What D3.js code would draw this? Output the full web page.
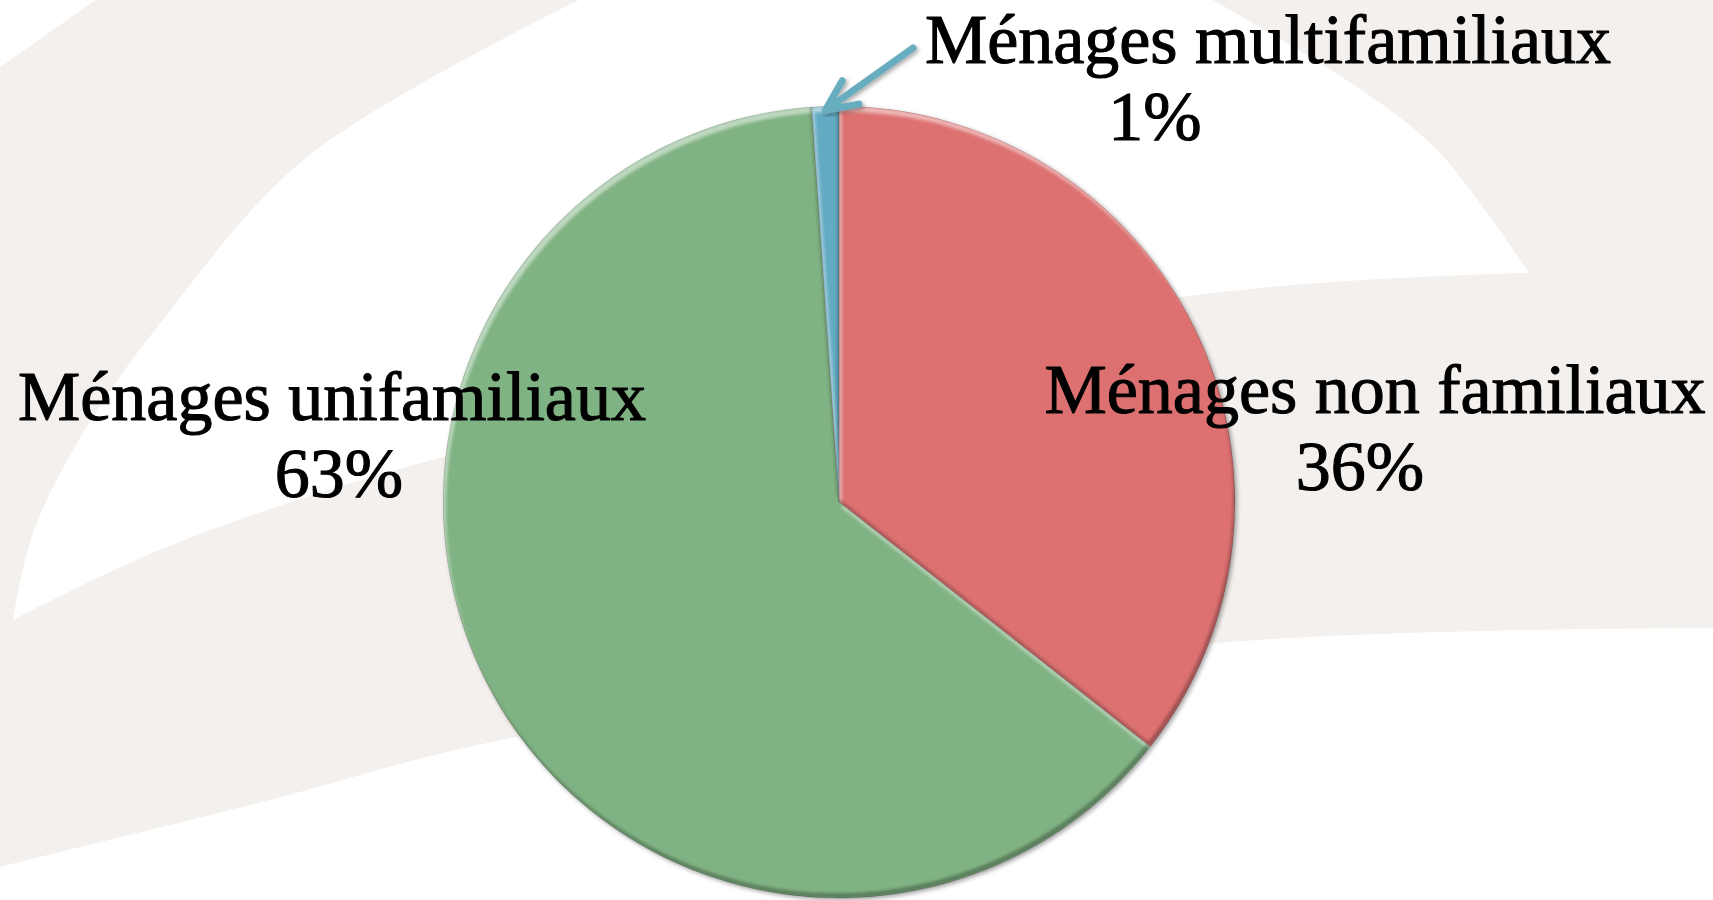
<!DOCTYPE html>
<html>
<head>
<meta charset="utf-8">
<script src="https://cdn.jsdelivr.net/npm/d3@7"></script>
<style>
    html, body { margin: 0; padding: 0; background: #ffffff; overflow: hidden; }
    svg { display: block; }
    .label { font-family: "Liberation Serif", "Times New Roman", serif; font-size: 70px; fill: #000; stroke: #000; stroke-width: 1.1px; }
</style>
</head>
<body>
<div id="chart"></div>
<script>
// Household types (percent of all households)
var categories = ["Ménages non familiaux", "Ménages unifamiliaux", "Ménages multifamiliaux"];
var shares = [35.6, 63.3, 1.1];
var sliceColors = ["#dd7171", "#80b383", "#63abc3"];

var width = 1713,
    height = 900;

var svg = d3.select("#chart").append("svg")
    .attr("width", width)
    .attr("height", height);

var defs = svg.append("defs");

// Bevel: light band on edges facing up, dark band on edges facing down
var bevel = defs.append("filter")
    .attr("id", "bevel")
    .attr("x", "-5%").attr("y", "-5%")
    .attr("width", "110%").attr("height", "110%")
    .attr("color-interpolation-filters", "sRGB");

function edgeBand(dx, dy, color, opacity, name) {
    bevel.append("feOffset")
        .attr("in", "SourceAlpha").attr("dx", dx).attr("dy", dy).attr("result", name + "Off");
    bevel.append("feComposite")
        .attr("in", "SourceAlpha").attr("in2", name + "Off").attr("operator", "out")
        .attr("result", name + "Mask");
    bevel.append("feGaussianBlur")
        .attr("in", name + "Mask").attr("stdDeviation", 1.5).attr("result", name + "Blur");
    bevel.append("feFlood")
        .attr("flood-color", color).attr("flood-opacity", opacity).attr("result", name + "Col");
    bevel.append("feComposite")
        .attr("in", name + "Col").attr("in2", name + "Blur").attr("operator", "in")
        .attr("result", name);
}
edgeBand(3, 6, "#ffffff", 0.5, "hi");
edgeBand(-2, -5, "#000000", 0.3, "lo");

var merge = bevel.append("feMerge").attr("result", "lit");
merge.append("feMergeNode").attr("in", "SourceGraphic");
merge.append("feMergeNode").attr("in", "hi");
merge.append("feMergeNode").attr("in", "lo");
bevel.append("feComposite")
    .attr("in", "lit").attr("in2", "SourceAlpha").attr("operator", "in");

// Soft shadow under the pie and the arrow
var shadow = defs.append("filter")
    .attr("id", "shadow")
    .attr("x", "-10%").attr("y", "-10%")
    .attr("width", "120%").attr("height", "120%");
shadow.append("feDropShadow")
    .attr("dx", 2).attr("dy", 2).attr("stdDeviation", 2)
    .attr("flood-color", "#000").attr("flood-opacity", 0.35);

// Background: beige page with white swooshes
svg.append("rect")
    .attr("width", width).attr("height", height)
    .attr("fill", "#f3f0ed");

var curve = d3.line().curve(d3.curveCatmullRom.alpha(0.5));

function joinEdges(edges) {
    return edges.map(function(pts, i) {
        var s = curve(pts);
        return i === 0 ? s : s.replace(/^M/, "L");
    }).join("") + "Z";
}

var bg = svg.append("g").attr("class", "background").attr("fill", "#ffffff");

bg.append("path")
    .attr("d", "M-1,-1L97,-1L-1,68Z");

bg.append("path")
    .attr("d", joinEdges([
        [[581, -1], [307, 157], [165, 317], [83, 433], [33, 533], [13, 620]],
        [[13, 620], [167, 547], [443, 457], [1182, 297], [1529, 273]],
        [[1529, 273], [1437, 150], [1351, 83], [1211, -1]]
    ]));

bg.append("path")
    .attr("d", joinEdges([
        [[-1, 867], [258, 803], [516, 737], [1215, 643], [1714, 628]],
        [[1714, 628], [1714, 901], [-1, 901]]
    ]));

// Pie
var cx = 839, cy = 502, radius = 396;

var data = categories.map(function(c, i) {
    return { name: c, value: shares[i], color: sliceColors[i] };
});
var total = d3.sum(shares);
var pct = d3.format(".0%");

var pie = d3.pie()
    .sort(null)
    .value(function(d) { return d.value; });

var arc = d3.arc()
    .innerRadius(0)
    .outerRadius(radius);

var arcs = pie(data);

var pieGroup = svg.append("g")
    .attr("transform", "translate(" + cx + "," + cy + ")")
    .attr("filter", "url(#shadow)");

pieGroup.selectAll("path")
    .data(arcs)
    .enter().append("path")
    .attr("d", arc)
    .attr("fill", function(d) { return d.data.color; })
    .attr("stroke", "rgba(60,60,60,0.4)")
    .attr("stroke-width", 1)
    .attr("filter", "url(#bevel)");

// Labels: name on the first line, share on the second
var labelPos = {
    "Ménages non familiaux": { x: 1375, y: 413, px: 1360 },
    "Ménages unifamiliaux": { x: 332, y: 420, px: 339 },
    "Ménages multifamiliaux": { x: 1268, y: 63, px: 1155 }
};
var lineGap = 77;

var labels = svg.append("g").selectAll("text")
    .data(arcs)
    .enter().append("text")
    .attr("class", "label")
    .attr("text-anchor", "middle")
    .attr("transform", function(d) {
        var p = labelPos[d.data.name];
        return "translate(" + p.x + "," + p.y + ")";
    });

labels.append("tspan")
    .attr("x", 0).attr("y", 0)
    .text(function(d) { return d.data.name; });

labels.append("tspan")
    .attr("x", function(d) { var p = labelPos[d.data.name]; return p.px - p.x; })
    .attr("y", lineGap)
    .text(function(d) { return pct(d.data.value / total); });

// Arrow pointing from the small label to its thin slice
var small = arcs[2];
var mid = (small.startAngle + small.endAngle) / 2;
var tip = [cx + Math.sin(mid) * (radius - 4), cy - Math.cos(mid) * (radius - 4)];
var tail = [913, 48];
var ang = Math.atan2(tail[1] - tip[1], tail[0] - tip[0]);
var wing = 34, spread = 25 * Math.PI / 180;
var w1 = [tip[0] + wing * Math.cos(ang - spread), tip[1] + wing * Math.sin(ang - spread)];
var w2 = [tip[0] + wing * Math.cos(ang + spread), tip[1] + wing * Math.sin(ang + spread)];

svg.append("path")
    .attr("d", "M" + tail + "L" + tip + "M" + w1 + "L" + tip + "L" + w2)
    .attr("fill", "none")
    .attr("stroke", "#68acc0")
    .attr("stroke-width", 7)
    .attr("stroke-linecap", "round")
    .attr("stroke-linejoin", "round")
    .attr("filter", "url(#shadow)");
</script>
</body>
</html>
